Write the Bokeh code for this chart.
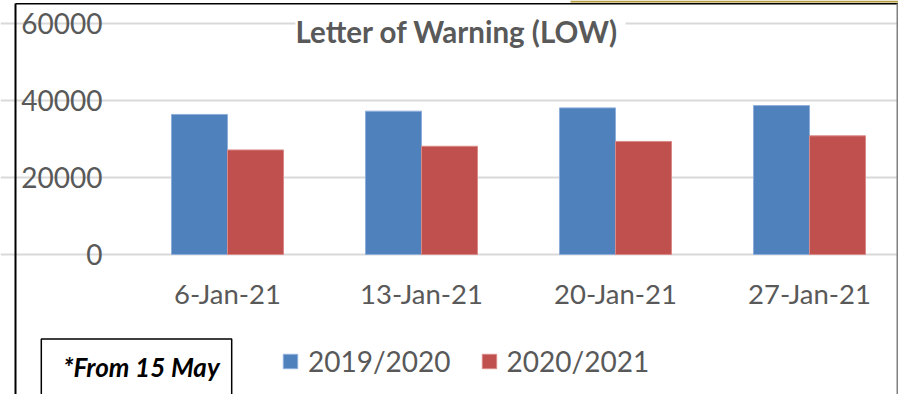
from bokeh.plotting import figure
from bokeh.models import (Range1d, FixedTicker, Label, Legend, LegendItem, Grid,
                          BoxAnnotation, ColumnDataSource, LinearAxis)
from bokeh.embed import file_html
from bokeh.resources import INLINE

# ---- data ----
dates = ["6-Jan-21", "13-Jan-21", "20-Jan-21", "27-Jan-21"]
low_2019_2020 = [36300, 37150, 38000, 38600]
low_2020_2021 = [27100, 28050, 29300, 30750]
y_ticks = [0, 20000, 40000, 60000]
series_names = ["2019/2020", "2020/2021"]
title_text = "Letter of  Warning (LOW)"
note_text = "*From 15 May"

# ---- style / layout ----
FONT = "Lato"
GRAY = "#595959"
BLUE = "#4F81BD"
RED = "#C0504D"
W, H = 898, 394
PX_PER_CAT = 194.0          # pixels per category
CAT0_PX = 227.0             # canvas x of first category centre
ZERO_PX = 254.0             # canvas y of value 0
PX_PER_UNIT = 231.5 / 60000.0

x_start = -CAT0_PX / PX_PER_CAT
x_end = (W - CAT0_PX) / PX_PER_CAT
y_end = ZERO_PX / PX_PER_UNIT
y_start = (ZERO_PX - H) / PX_PER_UNIT

p = figure(width=W, height=H,
           x_range=Range1d(x_start, x_end), y_range=Range1d(y_start, y_end),
           output_backend="svg", toolbar_location=None,
           x_axis_location=None, y_axis_location=None,
           min_border=0)
p.outline_line_color = None
p.background_fill_color = "white"
p.border_fill_color = "white"
p.grid.visible = False

idx = list(range(len(dates)))
bw = 0.2887
src = ColumnDataSource(dict(xa=[i - bw / 2 for i in idx], xb=[i + bw / 2 for i in idx],
                            a=low_2019_2020, b=low_2020_2021))

# gridlines limited to the plot area
yticker = FixedTicker(ticks=y_ticks)
ygrid = Grid(dimension=1, ticker=yticker, bounds=(-0.5, len(dates) - 0.5),
             grid_line_color="#d9d9d9", grid_line_width=2)
p.add_layout(ygrid)

r1 = p.vbar(x="xa", top="a", width=bw, source=src,
            fill_color=BLUE, line_color="#8eaedb", line_width=1)
r2 = p.vbar(x="xb", top="b", width=bw, source=src,
            fill_color=RED, line_color="#d98a88", line_width=1)

yaxis = LinearAxis(ticker=yticker, fixed_location=-0.5)
xaxis = LinearAxis(ticker=FixedTicker(ticks=idx), fixed_location=0,
                   major_label_overrides={i: d for i, d in zip(idx, dates)})
for ax in (xaxis, yaxis):
    ax.axis_line_color = None
    ax.major_tick_line_color = None
    ax.minor_tick_line_color = None
    ax.major_tick_out = 0
    ax.major_tick_in = 0
    ax.major_label_text_font = FONT
    ax.major_label_text_color = GRAY
yaxis.major_label_text_font_size = "28px"
yaxis.major_label_standoff = 28
xaxis.major_label_text_font_size = "27.5px"
xaxis.major_label_standoff = 22
p.add_layout(yaxis, "left")
p.add_layout(xaxis, "below")

title = Label(x=460, y=31, x_units="canvas", y_units="canvas", text=title_text,
              text_font=FONT, text_font_style="bold", text_font_size="29.5px",
              text_color=GRAY, text_align="center", text_baseline="middle",
              background_fill_color="white")
p.add_layout(title)

# padding given as (left, right, top, bottom); anchor is the padded box centre
note = Label(x=136, y=367, x_units="canvas", y_units="canvas", text=note_text,
             text_font=FONT, text_font_style="bold italic", text_font_size="26px",
             text_color="black", text_align="center", text_baseline="middle",
             border_line_color="black", border_line_width=1.5,
             background_fill_color="white", padding=(22, 12, 12, 13))
p.add_layout(note)

legend = Legend(items=[LegendItem(label=series_names[0], renderers=[r1]),
                       LegendItem(label=series_names[1], renderers=[r2])],
                orientation="horizontal", location=(281, 16),
                glyph_width=18, glyph_height=18, label_height=18,
                label_text_font=FONT, label_text_font_size="28px",
                label_text_color=GRAY, label_standoff=9, spacing=29,
                padding=0, margin=0, border_line_color=None,
                background_fill_alpha=0)
p.add_layout(legend, "center")

# outer chart frame
for l, r, t, b, c in [(14, 16, 3, H, "black"), (15, W, 2.5, 4, "black"),
                      (570, W, 0, 2, "#b39b3f"), (896, W, 3, H, "#808080")]:
    p.add_layout(BoxAnnotation(left=l, right=r, top=t, bottom=b,
                               left_units="canvas", right_units="canvas",
                               top_units="canvas", bottom_units="canvas",
                               fill_color=c, fill_alpha=1, line_color=None))

open("out.html", "w").write(file_html(p, INLINE))
